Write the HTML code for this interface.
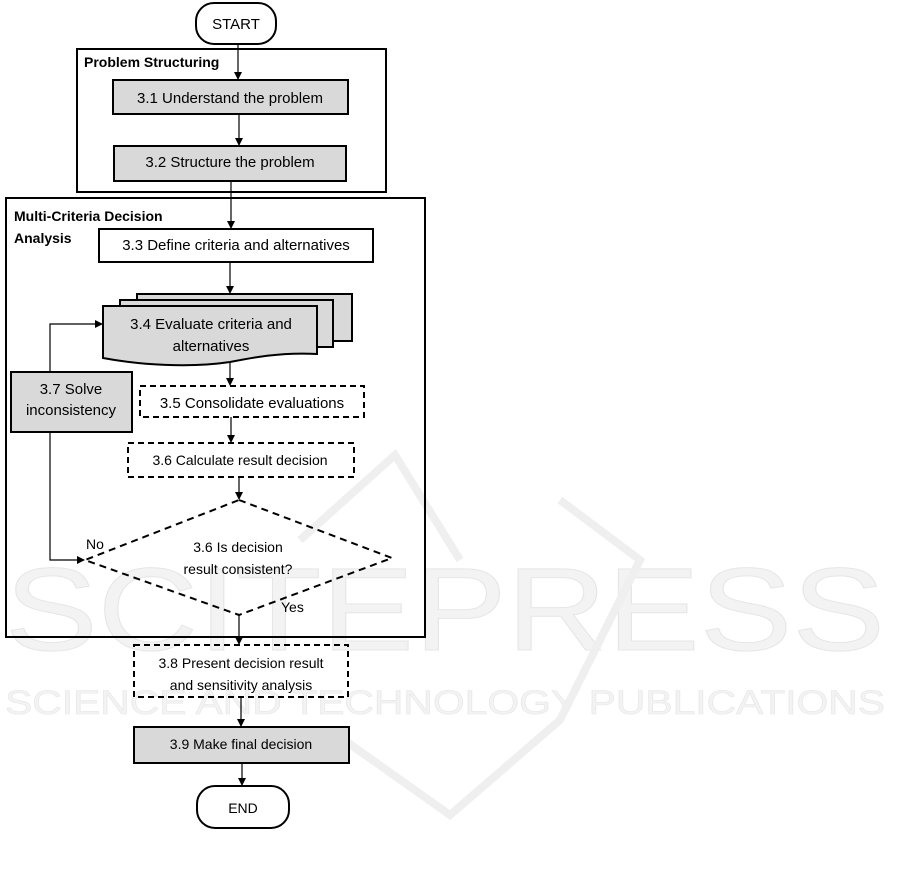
<!DOCTYPE html>
<html><head><meta charset="utf-8"><style>
html,body{margin:0;padding:0;background:#fff}
svg{display:block}
text{font-family:"Liberation Sans",sans-serif;fill:#000}
</style></head><body>
<svg width="901" height="887" viewBox="0 0 901 887" xmlns="http://www.w3.org/2000/svg">
<defs><marker id="a" markerWidth="8" markerHeight="8" refX="7" refY="4" orient="auto" markerUnits="userSpaceOnUse"><path d="M0,0 L8,4 L0,8 z" fill="#000"/></marker></defs>
<!-- watermark -->
<text x="445" y="650" text-anchor="middle" font-size="118" style="fill:#f3f3f3;stroke:#e6e6e6;stroke-width:1" textLength="880" lengthAdjust="spacingAndGlyphs">SCITEPRESS</text>
<text x="445" y="714" text-anchor="middle" font-size="34" style="fill:#f3f3f3;stroke:#e6e6e6;stroke-width:0.6" textLength="880" lengthAdjust="spacingAndGlyphs">SCIENCE AND TECHNOLOGY PUBLICATIONS</text>
<path d="M300,540 L395,455 L460,560 M330,730 L450,815 L560,720 L640,560 L560,500" stroke="#efefef" stroke-width="8" fill="none"/>

<g stroke="#000" stroke-width="2" fill="none">
<rect x="196" y="3" width="80" height="41" rx="18" fill="#fff"/>
<rect x="77" y="49" width="309" height="143"/>
<rect x="6" y="198" width="419" height="439"/>
<rect x="113" y="80" width="235" height="34" fill="#d9d9d9"/>
<rect x="114" y="146" width="232" height="35" fill="#d9d9d9"/>
<rect x="99" y="229" width="274" height="33" fill="#fff"/>
<rect x="137" y="294" width="215" height="47" fill="#d9d9d9"/>
<rect x="120" y="300" width="213" height="47" fill="#d9d9d9"/>
<path d="M103,306 H317 V354 C280,352 250,358 230,362 C190,368 140,365 103,358 Z" fill="#d9d9d9"/>
<rect x="11" y="372" width="121" height="60" fill="#d9d9d9"/>
<rect x="140" y="386" width="224" height="31" stroke-dasharray="6,4"/>
<rect x="128" y="443" width="226" height="34" stroke-dasharray="6,4"/>
<path d="M239,500 L392,558 L239,615 L85,560 Z" stroke-dasharray="7,5"/>
<rect x="134" y="645" width="214" height="52" stroke-dasharray="6,4"/>
<rect x="134" y="727" width="215" height="36" fill="#d9d9d9"/>
<rect x="197" y="786" width="92" height="42" rx="18" fill="#fff"/>
</g>
<g stroke="#000" stroke-width="1.2" fill="none">
<line x1="238" y1="44" x2="238" y2="79" marker-end="url(#a)"/>
<line x1="239" y1="114" x2="239" y2="145" marker-end="url(#a)"/>
<line x1="231" y1="181" x2="231" y2="228" marker-end="url(#a)"/>
<line x1="230" y1="262" x2="230" y2="293" marker-end="url(#a)"/>
<line x1="230" y1="362" x2="230" y2="385" marker-end="url(#a)"/>
<line x1="231" y1="417" x2="231" y2="442" marker-end="url(#a)"/>
<line x1="239" y1="477" x2="239" y2="499" marker-end="url(#a)"/>
<line x1="239" y1="615" x2="239" y2="644" marker-end="url(#a)"/>
<line x1="241" y1="697" x2="241" y2="726" marker-end="url(#a)"/>
<line x1="242" y1="763" x2="242" y2="785" marker-end="url(#a)"/>
<polyline points="50,432 50,560 84,560" marker-end="url(#a)"/>
<polyline points="50,372 50,324 102,324" marker-end="url(#a)"/>
</g>
<g font-size="15">
<text x="236" y="29" text-anchor="middle">START</text>
<text x="84" y="67" font-weight="bold" font-size="14">Problem Structuring</text>
<text x="230" y="103" text-anchor="middle">3.1 Understand the problem</text>
<text x="230" y="167" text-anchor="middle">3.2 Structure the problem</text>
<text x="14" y="221" font-weight="bold" font-size="14">Multi-Criteria Decision</text>
<text x="14" y="243" font-weight="bold" font-size="14">Analysis</text>
<text x="236" y="250" text-anchor="middle">3.3 Define criteria and alternatives</text>
<text x="211" y="329" text-anchor="middle">3.4 Evaluate criteria and</text>
<text x="211" y="351" text-anchor="middle">alternatives</text>
<text x="71" y="394" text-anchor="middle">3.7 Solve</text>
<text x="71" y="415" text-anchor="middle">inconsistency</text>
<text x="252" y="408" text-anchor="middle">3.5 Consolidate evaluations</text>
<text x="240" y="465" text-anchor="middle" font-size="14">3.6 Calculate result decision</text>
<text x="238" y="552" text-anchor="middle" font-size="14">3.6 Is decision</text>
<text x="238" y="574" text-anchor="middle" font-size="14">result consistent?</text>
<text x="86" y="549" font-size="14">No</text>
<text x="281" y="612" font-size="14">Yes</text>
<text x="241" y="668" text-anchor="middle" font-size="14">3.8 Present decision result</text>
<text x="241" y="690" text-anchor="middle" font-size="14">and sensitivity analysis</text>
<text x="241" y="749" text-anchor="middle" font-size="14">3.9 Make final decision</text>
<text x="243" y="813" text-anchor="middle" font-size="14">END</text>
</g>
</svg>
</body></html>
